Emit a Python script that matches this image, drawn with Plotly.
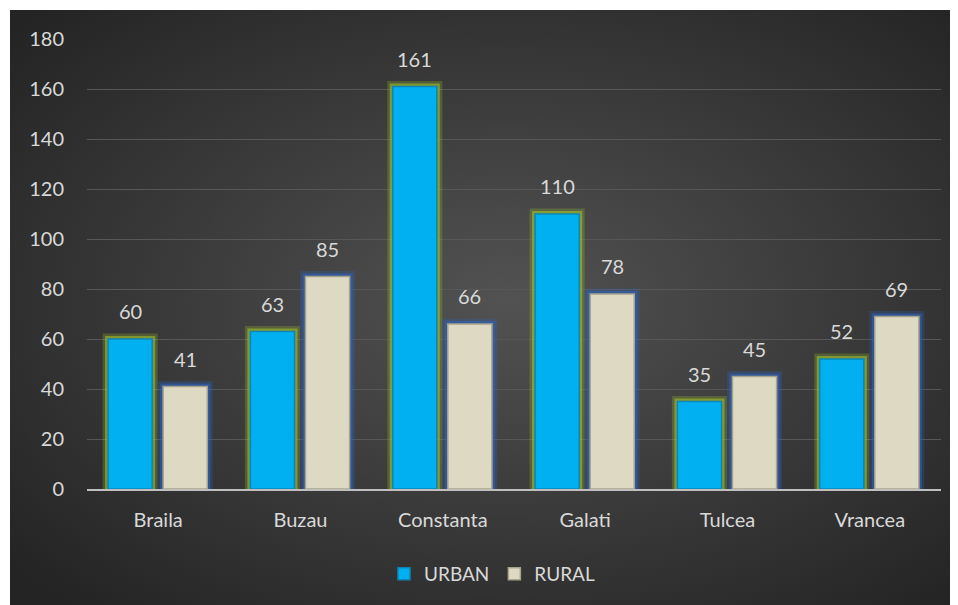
import base64
import plotly.graph_objects as go

categories = ["Braila", "Buzau", "Constanta", "Galati", "Tulcea", "Vrancea"]
urban = [60, 63, 161, 110, 35, 52]
rural = [41, 85, 66, 78, 45, 69]
y_ticks = [0, 20, 40, 60, 80, 100, 120, 140, 160, 180]

# page is rendered with an 8px body margin; figure coordinates compensate
W, H = 958, 605
L, R, T, B = 79, 25, 31, 124
pw, ph = W - L - R, H - T - B

svg = """<svg xmlns='http://www.w3.org/2000/svg' width='956' height='603' viewBox='0 0 956 603' preserveAspectRatio='none'>
<defs><radialGradient id='g' cx='52%' cy='48%' r='68%'>
<stop offset='0%' stop-color='#525252'/><stop offset='100%' stop-color='#242424'/></radialGradient></defs>
<rect width='956' height='603' fill='url(#g)'/></svg>"""
src = "data:image/svg+xml;base64," + base64.b64encode(svg.encode()).decode()

font = "Lato, 'Open Sans', sans-serif"
BW = 0.31
OFF_U, OFF_R = -0.352, 0.035
cat_px = pw / len(categories)

fig = go.Figure()
# glow traces (two soft layers each)
for vals, off, rgb in [(urban, OFF_U, "165,200,45"), (rural, OFF_R, "45,100,195")]:
    for lw, a in [(11, 0.25), (6, 0.55)]:
        fig.add_trace(go.Bar(x=categories, y=vals, width=BW, offset=off, showlegend=False,
                             hoverinfo="skip",
                             marker=dict(color=f"rgba({rgb},0.0)",
                                         line=dict(color=f"rgba({rgb},{a})", width=lw))))
# real bars
fig.add_trace(go.Bar(
    name="URBAN", x=categories, y=urban, width=BW, offset=OFF_U,
    marker=dict(color="#00b0f0", line=dict(color="#0a86b8", width=1.5)),
))
fig.add_trace(go.Bar(
    name="RURAL", x=categories, y=rural, width=BW, offset=OFF_R,
    marker=dict(color="#ddd9c3", line=dict(color="#a8a48c", width=1.5)),
))

# data labels above bars
for vals, off in [(urban, OFF_U), (rural, OFF_R)]:
    shift = (off + BW / 2) * cat_px
    for c, v in zip(categories, vals):
        fig.add_annotation(x=c, y=v, text=str(v), showarrow=False, xshift=shift,
                           yshift=14, yanchor="bottom",
                           font=dict(color="#d9d9d9", size=20, family=font))

x0 = (2 - L) / pw
x1 = (W - L) / pw
y1 = (H - B - 2) / ph
y0 = (H - B - H) / ph
fig.add_layout_image(dict(source=src, xref="paper", yref="paper", x=x0, y=y1,
                          sizex=x1 - x0, sizey=y1 - y0, sizing="stretch",
                          xanchor="left", yanchor="top", layer="below"))

fig.update_layout(
    width=W, height=H,
    margin=dict(l=L, r=R, t=T, b=B),
    paper_bgcolor="white", plot_bgcolor="rgba(0,0,0,0)",
    barmode="overlay",
    font=dict(family=font, color="#d9d9d9", size=20),
    showlegend=True,
    legend=dict(orientation="h", x=0.5 - 22 / pw, xanchor="center", y=-(85) / ph,
                yanchor="middle", font=dict(size=19, color="#d9d9d9"),
                bgcolor="rgba(0,0,0,0)", itemwidth=30, traceorder="normal"),
    xaxis=dict(showgrid=False, showline=True, linecolor="#bfbfbf", linewidth=2,
               ticks="", ticklabelstandoff=12, tickfont=dict(size=20, color="#d9d9d9")),
    yaxis=dict(range=[0, 180], tickvals=y_ticks, showgrid=True, gridcolor="#575757",
               gridwidth=1, zeroline=False, showline=False, ticks="",
               ticklabelstandoff=22, tickfont=dict(size=20, color="#d9d9d9")),
)
fig.write_html("out.html")
